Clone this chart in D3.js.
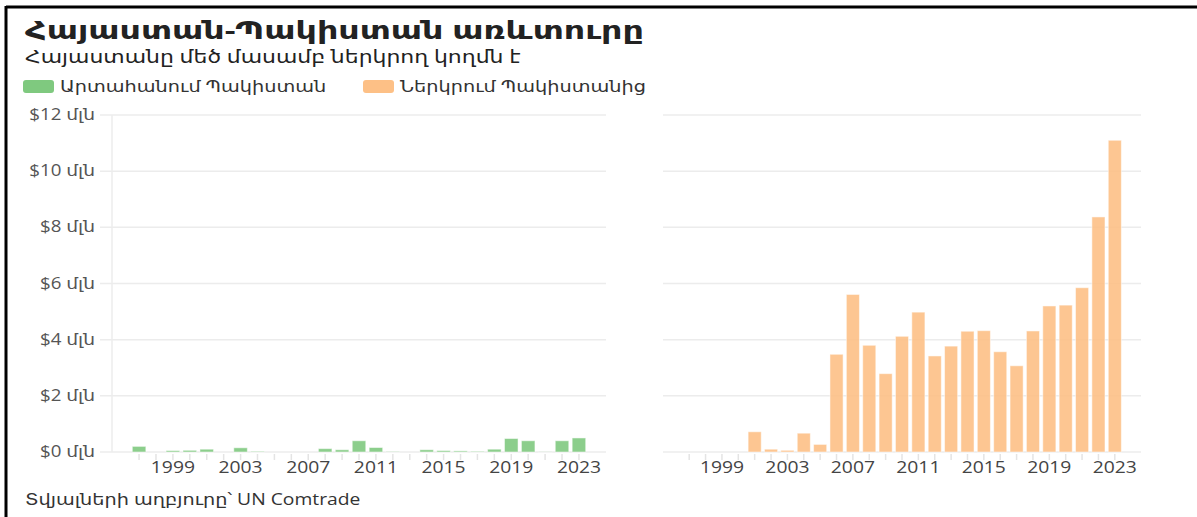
<!DOCTYPE html>
<html>
<head>
<meta charset="utf-8">
<script src="https://cdn.jsdelivr.net/npm/d3@7"></script>
<style>
  body { margin: 0; background: #fff; }
  svg { font-family: "Open Sans", "DejaVu Sans", sans-serif; }
</style>
</head>
<body>
<div id="chart"></div>
<script>
var years = d3.range(1997, 2024);
// արտահանում Պակիստան, մլն $
var exports = [0.2, 0, 0.05, 0.06, 0.1, 0, 0.15, 0.02, 0, 0, 0, 0.12, 0.08, 0.4, 0.16, 0.01,
    0, 0.08, 0.05, 0.04, 0.02, 0.1, 0.48, 0.4, 0.005, 0.4, 0.5];
// ներկրում Պակիստանից, մլն $
var imports = [0, 0, 0, 0, 0.72, 0.1, 0.06, 0.67, 0.27, 3.48, 5.61, 3.8, 2.79, 4.12, 4.98, 3.42,
    3.77, 4.3, 4.32, 3.57, 3.07, 4.31, 5.2, 5.23, 5.85, 8.37, 11.1];
var yTicks = [0, 2, 4, 6, 8, 10, 12];
var xLabels = [1999, 2003, 2007, 2011, 2015, 2019, 2023];
var legendLabels = ["Արտահանում Պակիստան", "Ներկրում Պակիստանից"];
var colors = ["#7fc97f", "#fdc086"];

var width = 1197, height = 517;
var stretch = 1.17; // the text is drawn a bit wide

var svg = d3.select("#chart").append("svg")
    .attr("width", width)
    .attr("height", height);

var addText = function (parent, x, y, str, size, fill, anchor, sx) {
    return parent.append("text")
        .attr("transform", "translate(" + x + "," + y + ") scale(" + (sx || stretch) + ",1)")
        .attr("font-size", size)
        .attr("fill", fill)
        .attr("text-anchor", anchor || "start")
        .text(str);
}

// frame
svg.append("line").attr("x1", 6).attr("x2", width).attr("y1", 7).attr("y2", 7)
    .attr("stroke", "#000").attr("stroke-width", 3);
svg.append("line").attr("x1", 6).attr("x2", 6).attr("y1", 6).attr("y2", height)
    .attr("stroke", "#000").attr("stroke-width", 3);

// titles
addText(svg, 25, 39, "Հայաստան-Պակիստան առևտուրը", 24.5, "#222", "start", 1.36).attr("font-weight", "bold");
addText(svg, 25, 63, "Հայաստանը մեծ մասամբ ներկրող կողմն է", 18, "#222", "start", 1.22);

// legend
var legendX = [23, 363];
legendLabels.forEach(function (d, i) {
    svg.append("rect").attr("x", legendX[i]).attr("y", 80).attr("width", 31).attr("height", 13)
        .attr("rx", 3).attr("fill", colors[i]);
    addText(svg, legendX[i] + 37, 92, d, 16.5, "#333");
});

// source
addText(svg, 25, 505, "Տվյալների աղբյուրը՝ UN Comtrade", 16.5, "#333");

var y = d3.scaleLinear().domain([0, 12]).range([452, 115]);
var domainYears = d3.range(1996, 2025);

var panels = [
    { x0: 112, x1: 606, values: exports, color: colors[0], yAxis: true },
    { x0: 663, x1: 1141, values: imports, color: colors[1], yAxis: false }
];

panels.forEach(function (p) {
    var x = d3.scaleBand().domain(domainYears).range([p.x0, p.x1]).padding(0.2);
    var g = svg.append("g");

    // gridlines
    g.selectAll(".grid").data(yTicks).enter().append("line")
        .attr("x1", p.yAxis ? p.x0 - 12 : p.x0).attr("x2", p.x1)
        .attr("y1", function (d) { return y(d); }).attr("y2", function (d) { return y(d); })
        .attr("stroke", "#ececec").attr("stroke-width", 1.5);

    if (p.yAxis) {
        g.append("line").attr("x1", p.x0).attr("x2", p.x0).attr("y1", y(12)).attr("y2", y(0))
            .attr("stroke", "#ececec").attr("stroke-width", 1.5);
        yTicks.forEach(function (d) {
            addText(g, 95, y(d) + 5, "$" + d + " մլն", 16, "#555", "end");
        });
    }

    // x ticks
    g.selectAll(".xtick").data(years).enter().append("line")
        .attr("x1", function (d) { return x(d) + x.bandwidth() / 2; })
        .attr("x2", function (d) { return x(d) + x.bandwidth() / 2; })
        .attr("y1", y(0) + 2).attr("y2", y(0) + 8)
        .attr("stroke", "#e4e4e4").attr("stroke-width", 1.5);
    xLabels.forEach(function (d) {
        addText(g, x(d) + x.bandwidth() / 2, 473, d, 16.5, "#444", "middle");
    });

    // bars
    g.selectAll(".bar").data(years).enter().append("rect")
        .attr("x", function (d) { return x(d); })
        .attr("width", x.bandwidth())
        .attr("y", function (d, i) { return y(p.values[i]); })
        .attr("height", function (d, i) { return y(0) - y(p.values[i]); })
        .attr("fill", p.color).attr("fill-opacity", 0.9)
        .attr("stroke", "#fff").attr("stroke-opacity", 0.5).attr("stroke-width", 1);
});
</script>
</body>
</html>
